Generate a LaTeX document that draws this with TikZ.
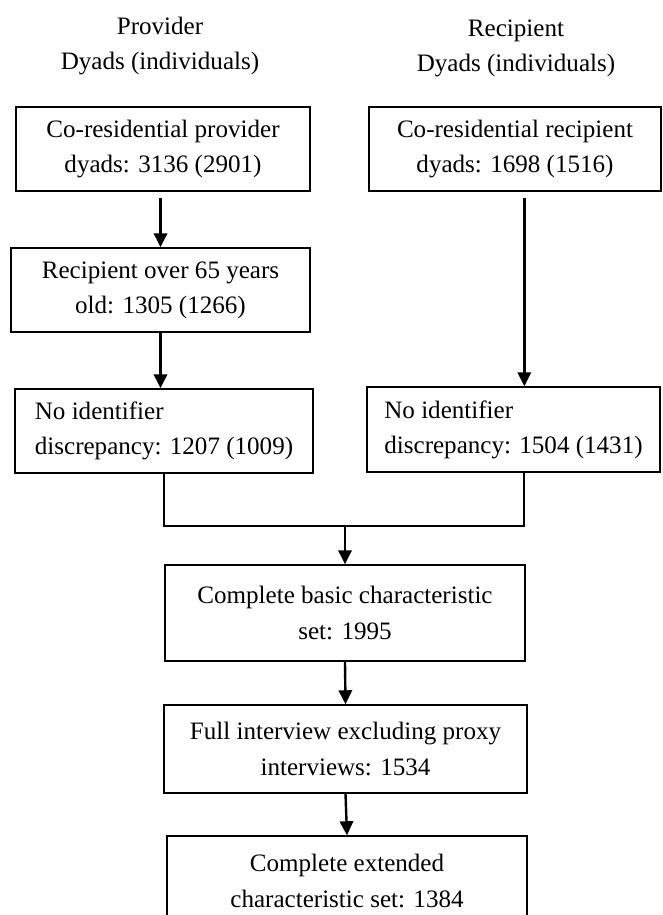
\documentclass[tikz,border=0pt]{standalone}
\usepackage{fontspec}
\setmainfont{Liberation Serif}
\usetikzlibrary{arrows.meta,positioning,calc}

\begin{document}
\begin{tikzpicture}[x=0.75pt,y=-0.75pt,font=\fontsize{18.8}{26.3}\selectfont,>={Triangle[length=10.5pt,width=10pt]}]
\tikzset{block/.style={draw=black,line width=1.1pt,minimum height=63pt,align=center,inner sep=0pt}, lblock/.style={block,align=left}, head/.style={align=center,inner sep=0pt}, arr/.style={->,draw=black,line width=1.8pt}, joinline/.style={draw=black,line width=1.1pt}}
\useasboundingbox (0,0) rectangle (662,915);
\clip (0,0) rectangle (662,915);
% column headings
\node[head] (hp) at (160,46) {Provider\\Dyads (individuals)};
\node[head] (hr) at (516,48) {Recipient\\Dyads (individuals)};
% provider column
\node[block,minimum width=220.5pt] (p1) at (163,149) {Co-residential provider\\dyads: 3136 (2901)};
\node[block,minimum width=224.25pt] (p2) at (160.5,290) {Recipient over 65 years\\old: 1305 (1266)};
\node[lblock,minimum width=223.5pt] (p3) at (164,431) {No identifier\\discrepancy: 1207 (1009)};
% recipient column
\node[block,minimum width=219pt] (r1) at (515,149) {Co-residential recipient\\dyads: 1698 (1516)};
\node[lblock,minimum width=219.75pt,minimum height=63.75pt] (r3) at (513.5,429.5) {No identifier\\discrepancy: 1504 (1431)};
% combined
\coordinate (jn) at (345,526);
\node[block,minimum width=270pt,minimum height=72pt] (c1) at (345,613) {Complete basic characteristic\\set: 1995};
\node[block,minimum width=272.25pt,minimum height=66pt] (c2) at (345.5,749) {Full interview excluding proxy\\interviews: 1534};
\node[block,minimum width=270pt,minimum height=67.5pt] (c3) at (347,881) {Complete extended\\characteristic set: 1384};
\draw[arr,shorten <=4.5pt] (p1.south -| p2.north) -- (p2.north);
\draw[arr] (p2.south) -- (p2.south |- p3.north);
\draw[arr,shorten <=4.5pt] ([xshift=7pt]r1.south) -- ([xshift=7pt]r1.south |- r3.north);
\draw[joinline] (p3.south) |- (jn) -| ([xshift=7.9pt]r3.south);
\draw[arr] (jn) -- (c1.north);
\draw[arr] (c1.south) -- (c2.north);
\draw[arr] (c2.south) -- (c3.north);
\end{tikzpicture}
\end{document}
